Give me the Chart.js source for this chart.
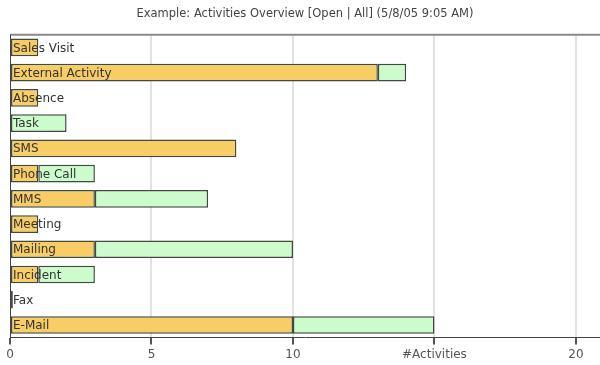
<!DOCTYPE html>
<html>
<head>
<meta charset="utf-8">
<script src="https://cdn.jsdelivr.net/npm/chart.js@4/dist/chart.umd.min.js"></script>
<style>
  body { margin: 0; background: #fff; }
  #wrap { width: 600px; height: 365px; }
</style>
</head>
<body>
<div id="wrap"><canvas id="activityChart" width="600" height="365"></canvas></div>
<script>
// categories, top to bottom
const categories = ['Sales Visit', 'External Activity', 'Absence', 'Task', 'SMS', 'Phone Call',
                    'MMS', 'Meeting', 'Mailing', 'Incident', 'Fax', 'E-Mail'];
// yellow part (open) and green part (rest of all)
const openValues  = [1, 13, 1, 0, 8, 1, 3, 1, 3, 1, 0.1, 10];
const otherValues = [0, 1, 0, 2, 0, 2, 4, 0, 7, 2, 0, 5];
const xTicks = [0, 5, 10, 15, 20];
const xTickLabels = ['0', '5', '10', '#Activities', '20'];

const labelFont = '12px "DejaVu Sans", Verdana, sans-serif';

// draws the frame lines and the category names inside the bars
const barLabels = {
    id: 'barLabels',
    afterDatasetsDraw(chart) {
        const ctx = chart.ctx;
        const area = chart.chartArea;
        const y = chart.scales.y;
        ctx.save();
        ctx.strokeStyle = '#8a8a8a';
        ctx.lineWidth = 2;
        ctx.beginPath();
        ctx.moveTo(area.left, area.top);
        ctx.lineTo(area.right, area.top);
        ctx.stroke();
        ctx.strokeStyle = '#444';
        ctx.lineWidth = 1;
        ctx.beginPath();
        ctx.moveTo(area.left + 0.5, area.top);
        ctx.lineTo(area.left + 0.5, area.bottom);
        ctx.stroke();

        ctx.font = labelFont;
        ctx.fillStyle = '#333';
        ctx.textBaseline = 'middle';
        ctx.textAlign = 'left';
        categories.forEach(function(name, i) {
            ctx.fillText(name, area.left + 3, y.getPixelForValue(i) + 1);
        });
        ctx.restore();
    }
};

new Chart(document.getElementById('activityChart'), {
    type: 'bar',
    data: {
        labels: categories,
        datasets: [{
            label: 'Open',
            data: openValues,
            backgroundColor: '#f8cd66',
            borderColor: '#3e4a3e',
            borderWidth: 1.5,
            borderSkipped: false
        }, {
            label: 'All',
            data: otherValues,
            backgroundColor: '#ccfccc',
            borderColor: '#3e4a3e',
            borderWidth: 1.5,
            borderSkipped: false
        }]
    },
    options: {
        indexAxis: 'y',
        responsive: false,
        animation: false,
        barPercentage: 0.7,
        categoryPercentage: 1,
        layout: { padding: { left: 10, right: 0, top: 0, bottom: 0 } },
        plugins: {
            legend: { display: false },
            tooltip: { enabled: false },
            title: {
                display: true,
                text: 'Example: Activities Overview [Open | All] (5/8/05 9:05 AM)',
                color: '#444',
                font: { family: '"DejaVu Sans", Verdana, sans-serif', size: 11.5, weight: 'normal' },
                padding: { top: 7, bottom: 14 }
            }
        },
        scales: {
            x: {
                stacked: true,
                min: 0,
                max: 20.85,
                afterBuildTicks: function(axis) {
                    axis.ticks = xTicks.map(function(v) { return { value: v }; });
                },
                ticks: {
                    color: '#555',
                    font: { family: '"DejaVu Sans", Verdana, sans-serif', size: 12 },
                    padding: 3,
                    maxRotation: 0,
                    callback: function(value) {
                        const i = xTicks.indexOf(value);
                        return i >= 0 ? xTickLabels[i] : '';
                    }
                },
                grid: {
                    color: function(ctx) { return ctx.tick && ctx.tick.value === 0 ? 'rgba(0,0,0,0)' : '#e2e2e2'; },
                    lineWidth: 2,
                    tickColor: '#555',
                    tickLength: 7
                },
                border: { display: true, color: '#444', width: 1 }
            },
            y: {
                stacked: true,
                display: false
            }
        }
    },
    plugins: [barLabels]
});
</script>
</body>
</html>
